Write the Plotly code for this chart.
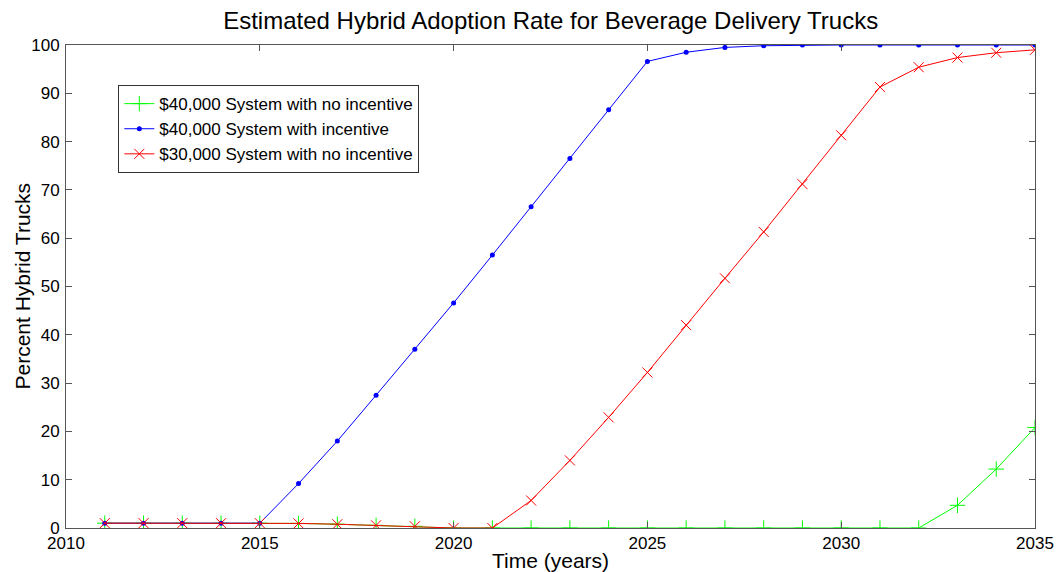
import plotly.graph_objects as go

years = list(range(2011, 2036))

no_incentive_40k = [1, 1, 1, 1, 1, 0.95, 0.78, 0.55, 0.35, 0, 0, 0, 0, 0, 0, 0, 0, 0, 0, 0, 0, 0,
                    4.7, 12.2, 20.8]
incentive_40k = [1, 1, 1, 1, 1, 9.2, 18.0, 27.5, 37.0, 46.6, 56.5, 66.5, 76.5, 86.6, 96.6, 98.5,
                 99.5, 99.85, 100, 100, 100, 100, 100, 100, 100]
no_incentive_30k = [1, 1, 1, 1, 1, 0.95, 0.78, 0.55, 0.35, 0, 0, 5.7, 14.0, 22.9, 32.2, 42.0,
                    51.7, 61.3, 71.2, 81.3, 91.3, 95.4, 97.4, 98.4, 99.0]

series_names = ["$40,000 System with no incentive",
                "$40,000 System with incentive",
                "$30,000 System with no incentive"]

x_ticks = [2010, 2015, 2020, 2025, 2030, 2035]
y_ticks = list(range(0, 101, 10))

FONT = "Liberation Sans, Arial, sans-serif"
AXIS_COLOR = "#555555"

fig = go.Figure()

fig.add_trace(go.Scatter(
    x=years, y=no_incentive_40k, name=series_names[0], mode="lines+markers",
    line=dict(color="#00ff00", width=1),
    marker=dict(symbol="cross-thin-open", size=11, line=dict(color="#00ff00", width=1)),
))
fig.add_trace(go.Scatter(
    x=years, y=incentive_40k, name=series_names[1], mode="lines+markers",
    line=dict(color="#0000ff", width=1),
    marker=dict(symbol="circle", size=5, color="#0000ff"),
))
fig.add_trace(go.Scatter(
    x=years, y=no_incentive_30k, name=series_names[2], mode="lines+markers",
    line=dict(color="#ff0000", width=1),
    marker=dict(symbol="x-thin-open", size=10, line=dict(color="#ff0000", width=1)),
))

axis_common = dict(
    showgrid=False, zeroline=False, showline=True, mirror="allticks",
    linecolor=AXIS_COLOR, linewidth=1, ticks="inside", ticklen=6,
    tickcolor=AXIS_COLOR, tickwidth=1, automargin=False,
    tickfont=dict(family=FONT, size=17, color="#000000"),
)

fig.update_xaxes(
    range=[2010, 2035], tickmode="array", tickvals=x_ticks,
    ticktext=[str(t) for t in x_ticks], ticklabelstandoff=0,
    **axis_common,
)
fig.update_yaxes(
    range=[0, 100], tickmode="array", tickvals=y_ticks,
    ticktext=[str(t) for t in y_ticks], ticklabelstandoff=2,
    **axis_common,
)

# axis titles placed as paper-anchored annotations
fig.add_annotation(
    text="Time (years)", xref="paper", yref="paper", x=0.5, y=0, yshift=-32,
    xanchor="center", yanchor="middle", showarrow=False,
    font=dict(family=FONT, size=21, color="#000000"),
)
fig.add_annotation(
    text="Percent Hybrid Trucks", xref="paper", yref="paper", x=0, y=0.5, xshift=-44,
    xanchor="center", yanchor="middle", textangle=-90, showarrow=False,
    font=dict(family=FONT, size=21, color="#000000"),
)

fig.update_layout(
    width=1059, height=572,
    margin=dict(l=66, r=24, t=45, b=44, autoexpand=False),
    paper_bgcolor="#ffffff", plot_bgcolor="#ffffff",
    title=dict(text="Estimated Hybrid Adoption Rate for Beverage Delivery Trucks",
               x=0.52, xanchor="center", y=1 - 21 / 572, yanchor="middle",
               font=dict(family=FONT, size=24, color="#000000")),
    showlegend=True,
    legend=dict(
        x=0.054, y=0.917, xanchor="left", yanchor="top",
        bgcolor="#ffffff", bordercolor="#333333", borderwidth=1,
        font=dict(family=FONT, size=17, color="#000000"),
        tracegroupgap=0,
    ),
)

fig.write_html("out.html")
